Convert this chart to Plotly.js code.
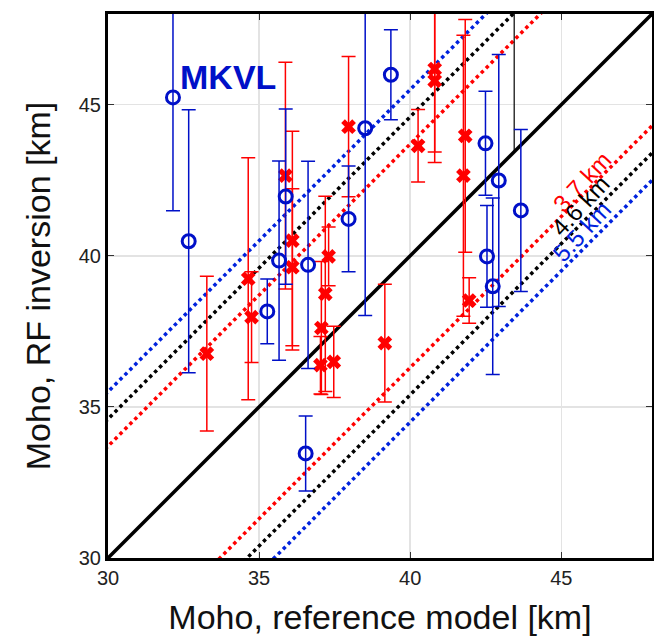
<!DOCTYPE html>
<html>
<head>
<meta charset="utf-8">
<script src="https://cdn.plot.ly/plotly-3.0.1.min.js"></script>
<style>html,body{margin:0;padding:0;background:#fff;}#chart{width:654px;height:643px;}</style>
</head>
<body>
<div id="chart"></div>
<script>
// Blue circles (station MKVL set)
var blueX   = [32.15, 32.67, 35.27, 35.66, 35.88, 36.62, 36.54, 38.51, 39.36, 37.96, 42.49, 42.93, 43.66, 42.54, 42.73];
var blueY   = [45.24, 40.48, 38.16, 39.84, 41.96, 39.70, 33.46, 44.22, 45.99, 41.22, 43.72, 42.49, 41.50, 39.98, 38.99];
var blueErr = [3.75, 4.35, 1.07, 3.30, 2.90, 3.43, 1.24, 6.20, 1.49, 1.75, 1.72, 4.17, 2.68, 1.68, 2.92];

// Red crosses
var redX   = [33.27, 34.64, 34.75, 35.87, 36.10, 36.10, 37.96, 40.26, 40.81, 40.81, 41.82, 41.76, 41.95, 39.16, 37.30, 37.19, 37.06, 37.03, 37.47];
var redY   = [36.76, 39.24, 37.97, 42.65, 40.50, 39.62, 44.27, 43.64, 46.18, 45.79, 43.97, 42.65, 38.52, 37.11, 39.98, 38.74, 37.61, 36.38, 36.49];
var redErr = [2.56, 4.00, 1.50, 3.75, 3.62, 2.60, 2.32, 1.20, 2.75, 2.70, 3.85, 4.65, 0.75, 1.95, 0.97, 3.23, 2.20, 0.95, 1.18];

// Offset lines (km)
var offsets = [3.7, 4.6, 5.5];
var offsetColors = ['#ff0000', '#000000', '#0022dd'];
var offsetLabels = ['3.7 km', '4.6 km', '5.5 km'];
var labelX = [45.70, 45.63, 45.68];
var labelY = [42.45, 41.67, 40.80];

// Extra thin black segment
var segX = [43.44, 43.44];
var segY = [43.44, 48.5];

var axMin = 30, axMax = 48;

var traces = [];
traces.push({x:[axMin, axMax], y:[axMin, axMax], mode:'lines', line:{color:'#000', width:3.5}, hoverinfo:'skip', showlegend:false});
for (var i = 0; i < offsets.length; i++) {
  [1, -1].forEach(function(s){
    var o = s*offsets[i];
    traces.push({x:[axMin-6, axMax+6], y:[axMin-6+o, axMax+6+o], mode:'lines',
      line:{color:offsetColors[i], width:3.5, dash:'dot'}, hoverinfo:'skip', showlegend:false});
  });
}
traces.push({x:segX, y:segY, mode:'lines', line:{color:'#000', width:1.2}, showlegend:false});

traces.push({x:redX, y:redY, mode:'markers', type:'scatter',
  marker:{symbol:'x', size:13, color:'#ff0000', line:{width:0}},
  error_y:{type:'data', array:redErr, visible:true, color:'#ff0000', thickness:1.5, width:7},
  showlegend:false});
traces.push({x:blueX, y:blueY, mode:'markers', type:'scatter',
  marker:{symbol:'circle-open', size:13, color:'#0010c8', line:{width:3, color:'#0010c8'}},
  error_y:{type:'data', array:blueErr, visible:true, color:'#0010c8', thickness:1.5, width:7},
  showlegend:false});

var annotations = [{x:32.32, y:45.9, xref:'x', yref:'y', text:'<b>MKVL</b>', showarrow:false,
  xanchor:'left', yanchor:'middle', font:{family:'Liberation Sans, Arial, sans-serif', size:34, color:'#0010c8'}}];
for (var j = 0; j < offsetLabels.length; j++) {
  annotations.push({x:labelX[j], y:labelY[j], xref:'x', yref:'y', text:offsetLabels[j], showarrow:false,
    textangle:-47, font:{family:'Liberation Sans, Arial, sans-serif', size:24, color:offsetColors[j]}});
}

var axisCommon = {range:[axMin, axMax], tickvals:[30,35,40,45], ticktext:['30','35','40','45'],
  showgrid:true, gridcolor:'#e3e3e3', gridwidth:1.5, zeroline:false,
  showline:true, linecolor:'#000', linewidth:3, mirror:'ticks',
  ticks:'inside', ticklen:6, tickcolor:'#333', tickwidth:1,
  tickfont:{family:'Liberation Sans, Arial, sans-serif', size:20, color:'#222'}};

var layout = {
  width:654, height:643,
  margin:{l:108, r:2, t:14, b:85},
  paper_bgcolor:'#fff', plot_bgcolor:'#fff',
  xaxis:Object.assign({}, axisCommon, {title:{text:'Moho, reference model [km]', standoff:18,
    font:{family:'Liberation Sans, Arial, sans-serif', size:34, color:'#111'}}}),
  yaxis:Object.assign({}, axisCommon, {title:{text:'Moho, RF inversion [km]', standoff:18,
    font:{family:'Liberation Sans, Arial, sans-serif', size:34, color:'#111'}}}),
  annotations:annotations,
  showlegend:false
};

Plotly.newPlot('chart', traces, layout, {displayModeBar:false, staticPlot:true});
</script>
</body>
</html>
